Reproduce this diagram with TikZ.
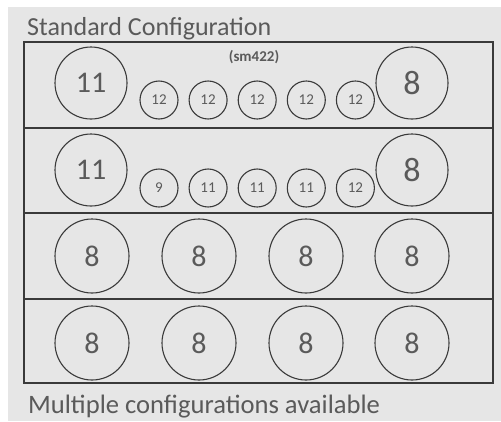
\documentclass[tikz,border=0pt]{standalone}
\usepackage{fontspec}
\setmainfont{Carlito}
\usetikzlibrary{positioning}
\definecolor{panelgray}{HTML}{E6E6E6}
\definecolor{linegray}{HTML}{3A3A3A}
\definecolor{textgray}{HTML}{5A5A5A}

\begin{document}
\begin{tikzpicture}[
      x=1pt, y=-1pt,
      % large driver circles
      bigcone/.style={circle, draw=linegray, line width=1.1pt, minimum size=72pt, inner sep=0pt, text=textgray, font=\fontsize{30}{30}\selectfont},
      % small driver circles
      smallcone/.style={circle, draw=linegray, line width=1.1pt, minimum size=38pt, inner sep=0pt, text=textgray, font=\fontsize{15}{15}\selectfont},
      % rack frame
      frame/.style={draw=linegray, line width=1.4pt},
      node distance=10pt
    ]

    % --- background ---
    \useasboundingbox (0,0) rectangle (501,421);
    \fill[panelgray] (8,7) rectangle (501,421);

    % --- titles ---
    \node [anchor=base west, inner sep=0pt, text=textgray, font=\fontsize{26}{26}\selectfont] (title) at (27,35) {Standard Configuration};
    \node [anchor=base west, inner sep=0pt, text=textgray, font=\fontsize{26.6}{26.6}\selectfont] (note) at (28,413) {Multiple configurations available};

    % --- frame and rows ---
    \draw [frame] (24,42) rectangle (493,383);
    \draw [frame] (24,128) -- (493,128);
    \draw [frame] (24,213) -- (493,213);
    \draw [frame] (24,299) -- (493,299);

    % --- row 1 ---
    \node [bigcone] (r1left) at (91,83) {11};
    \node [smallcone] (r1a) at (159,100) {12};
    \node [smallcone, right=of r1a] (r1b) {12};
    \node [smallcone, right=of r1b] (r1c) {12};
    \node [smallcone, right=of r1c] (r1d) {12};
    \node [smallcone, right=of r1d] (r1e) {12};
    \node [bigcone, font=\fontsize{34}{34}\selectfont] (r1right) at (412,83) {8};
    \node [text=textgray, font=\bfseries\fontsize{15}{15}\selectfont] (model) at (254,57) {(sm422)};

    % --- row 2 ---
    \node [bigcone] (r2left) at (91,170) {11};
    \node [smallcone] (r2a) at (159,188) {9};
    \node [smallcone, right=of r2a] (r2b) {11};
    \node [smallcone, right=of r2b] (r2c) {11};
    \node [smallcone, right=of r2c] (r2d) {11};
    \node [smallcone, right=of r2d] (r2e) {12};
    \node [bigcone, font=\fontsize{34}{34}\selectfont] (r2right) at (412,170) {8};

    % --- rows 3 and 4 ---
    \foreach \x [count=\i] in {92,199,306,412} {
      \node [bigcone, minimum size=74pt] (r3c\i) at (\x,256) {8};
      \node [bigcone, minimum size=74pt] (r4c\i) at (\x,343) {8};
    }

    \end{tikzpicture}
\end{document}
